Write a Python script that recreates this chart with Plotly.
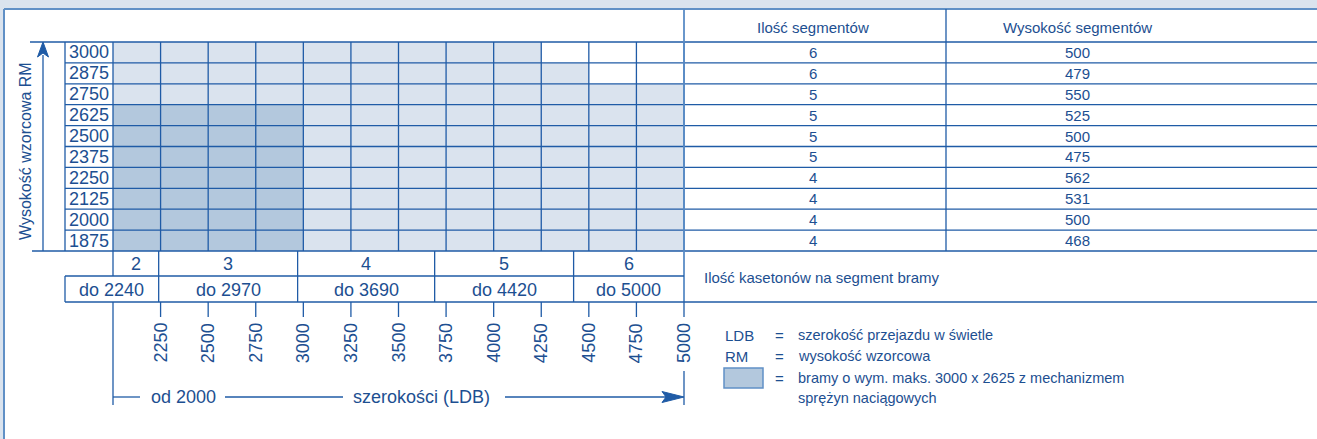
import plotly.graph_objects as go

# ---------------- data ----------------
rm_values = [3000, 2875, 2750, 2625, 2500, 2375, 2250, 2125, 2000, 1875]
max_width = [4250, 4500, 5000, 5000, 5000, 5000, 5000, 5000, 5000, 5000]
segment_count = [6, 6, 5, 5, 5, 5, 4, 4, 4, 4]
segment_height = [500, 479, 550, 525, 500, 475, 562, 531, 500, 468]
width_ticks = [2250, 2500, 2750, 3000, 3250, 3500, 3750, 4000, 4250, 4500, 4750, 5000]
panel_counts = [2, 3, 4, 5, 6]
panel_limits = [2240, 2970, 3690, 4420, 5000]
width_min = 2000
rm_step = 125
spring_max_width = 3000
spring_max_height = 2625

header_cols = ["Ilość segmentów", "Wysokość segmentów"]
y_title = "Wysokość wzorcowa RM"
panel_title = "Ilość kasetonów na segment bramy"
legend_keys = ["LDB", "RM", "", ""]
legend_texts = ["szerokość przejazdu w świetle", "wysokość wzorcowa",
                "bramy o wym. maks. 3000 x 2625 z mechanizmem", "sprężyn naciągowych"]

# ---------------- layout constants (pixels) ----------------
W, H = 1317, 439
GX0, GX1 = 113, 684
GY_TOP, GY_BOT = 42, 251
TXT = "#1d4f91"
LINE = "#1f5ba6"
FRAME = "#6090c6"
LIGHT = "#dae3ee"
DARK = "#b3c8dd"
FONT = "Liberation Sans, Arial, sans-serif"

width_max = width_ticks[-1]
kx = (GX1 - GX0) / (width_max - width_min)
x_range = [width_min - GX0 / kx, width_min + (W - GX0) / kx]
y_top_val = rm_values[0] + rm_step / 2
y_bot_val = rm_values[-1] - rm_step / 2
ky = (GY_BOT - GY_TOP) / (y_top_val - y_bot_val)
y_range = [y_bot_val - (H - GY_BOT) / ky, y_top_val + GY_TOP / ky]


def px(xp):
    return xp / W


def py(yp):
    return 1 - yp / H


def xpx(v):
    return GX0 + (v - width_min) * kx


fig = go.Figure()

# cells as horizontal bars
fig.add_trace(go.Bar(
    orientation="h", y=rm_values, x=[m - width_min for m in max_width], base=width_min,
    width=rm_step, marker=dict(color=LIGHT, line=dict(width=0)), hoverinfo="skip",
    showlegend=False))
dark_rm = [r for r in rm_values if r <= spring_max_height]
fig.add_trace(go.Bar(
    orientation="h", y=dark_rm, x=[spring_max_width - width_min] * len(dark_rm), base=width_min,
    width=rm_step, marker=dict(color=DARK, line=dict(width=0)), hoverinfo="skip",
    showlegend=False))

shapes = []


def seg(x0, y0, x1, y1, xref="paper", yref="paper", color=LINE, width=1.3):
    shapes.append(dict(type="line", x0=x0, y0=y0, x1=x1, y1=y1, xref=xref, yref=yref,
                       line=dict(color=color, width=width), layer="above"))


# white page and frame
shapes.append(dict(type="rect", xref="paper", yref="paper", x0=px(4), y0=0, x1=1, y1=py(9),
                   fillcolor="white", line=dict(width=0), layer="below"))
seg(px(4), py(9), 1, py(9), color=FRAME, width=2)
seg(px(4), py(9), px(4), 0, color=FRAME, width=2)

# horizontal grid / table lines
bounds = [r + rm_step / 2 for r in rm_values] + [rm_values[-1] - rm_step / 2]
for i, b in enumerate(bounds):
    xs = 65
    if i == 0:
        xs = 30
    elif i == len(bounds) - 1:
        xs = 32
    seg(px(xs), b, 1, b, xref="paper", yref="y")

# vertical grid lines
for v in [width_min] + width_ticks:
    seg(v, y_bot_val, v, y_top_val, xref="x", yref="y")
seg(width_max, py(9), width_max, py(302), xref="x", color="#5a8cc6", width=1.8)
seg(width_min, py(GY_BOT), width_min, py(276), xref="x")
seg(width_min, py(302), width_min, py(405), xref="x")
seg(px(65), py(GY_TOP), px(65), py(GY_BOT))
seg(px(946), py(9), px(946), py(GY_BOT))

# y arrow
seg(px(43), py(55), px(43), py(GY_BOT))
shapes.append(dict(type="path", xref="paper", yref="paper",
                   path="M {} {} L {} {} L {} {} L {} {} Z".format(
                       px(43), py(42), px(37.5), py(57), px(43), py(53), px(48.5), py(57)),
                   fillcolor=LINE, line=dict(color=LINE, width=1), layer="above"))

# panel rows
seg(px(65), py(276), px(GX1), py(276))
seg(px(65), py(302), 1, py(302))
seg(px(65), py(276), px(65), py(302))
for lim in panel_limits[:-1]:
    seg(lim, py(GY_BOT), lim, py(302), xref="x")

# ticks
for t in width_ticks:
    seg(t, py(302), t, py(317), xref="x")
seg(width_max, py(371), width_max, py(405), xref="x")

# bracket with arrow
seg(px(xpx(width_min)), py(397), px(140), py(397))
seg(px(225), py(397), px(343), py(397))
seg(px(505), py(397), px(668), py(397))
shapes.append(dict(type="path", xref="paper", yref="paper",
                   path="M {} {} L {} {} L {} {} L {} {} Z".format(
                       px(GX1), py(397), px(662), py(391.5), px(666), py(397), px(662), py(402.5)),
                   fillcolor=LINE, line=dict(color=LINE, width=1), layer="above"))

# legend swatch
shapes.append(dict(type="rect", xref="paper", yref="paper", x0=px(724), y0=py(388), x1=px(763),
                   y1=py(368), fillcolor=DARK, line=dict(color=FRAME, width=1.5), layer="above"))

anns = []


def ann(text, x, y, xref="paper", yref="paper", size=15, xanchor="center", yanchor="middle",
        angle=0):
    anns.append(dict(text=text, x=x, y=y, xref=xref, yref=yref, showarrow=False,
                     xanchor=xanchor, yanchor=yanchor, textangle=angle,
                     font=dict(family=FONT, size=size, color=TXT)))


# header
ann(header_cols[0], px(813), py(27))
ann(header_cols[1], px(1077), py(27))
# rows
for r, c, h in zip(rm_values, segment_count, segment_height):
    ann(str(r), px(89), r, yref="y", size=18)
    ann(str(c), px(813), r, yref="y")
    ann(str(h), px(1077), r, yref="y")
# y title
ann(y_title, px(25), py(151), size=16, angle=-90)

# panels
edges = [width_min] + panel_limits
for i, (n, lim) in enumerate(zip(panel_counts, panel_limits)):
    ann(str(n), (edges[i] + edges[i + 1]) / 2, py(264), xref="x", size=18)
    left_px = 65 if i == 0 else xpx(edges[i])
    ann("do " + str(lim), px((left_px + xpx(lim)) / 2), py(290), size=18)
ann(panel_title, px(702), py(277), xanchor="left")

# tick labels
for t in width_ticks:
    ann(str(t), t, py(343), xref="x", size=18, angle=-90)

# bracket labels
ann("od " + str(width_min), px(183), py(397), size=18)
ann("szerokości (LDB)", px(422), py(397), size=18)

# legend
ly = [335, 356, 378, 398]
for k, t, y in zip(legend_keys, legend_texts, ly):
    if k:
        ann(k, px(723), py(y), xanchor="left", size=15)
    if y != 398:
        ann("=", px(779), py(y), size=15)
    ann(t, px(796), py(y), xanchor="left", size=14.5)

fig.update_layout(
    width=W, height=H, margin=dict(l=0, r=0, t=0, b=0),
    paper_bgcolor=LIGHT, plot_bgcolor="rgba(0,0,0,0)",
    barmode="overlay", bargap=0, showlegend=False,
    xaxis=dict(range=x_range, visible=False, fixedrange=True),
    yaxis=dict(range=y_range, visible=False, fixedrange=True),
    shapes=shapes, annotations=anns,
)

fig.write_html("out.html", config={"displayModeBar": False},
               post_script="document.body.style.margin='0';document.body.style.overflow='hidden';")
